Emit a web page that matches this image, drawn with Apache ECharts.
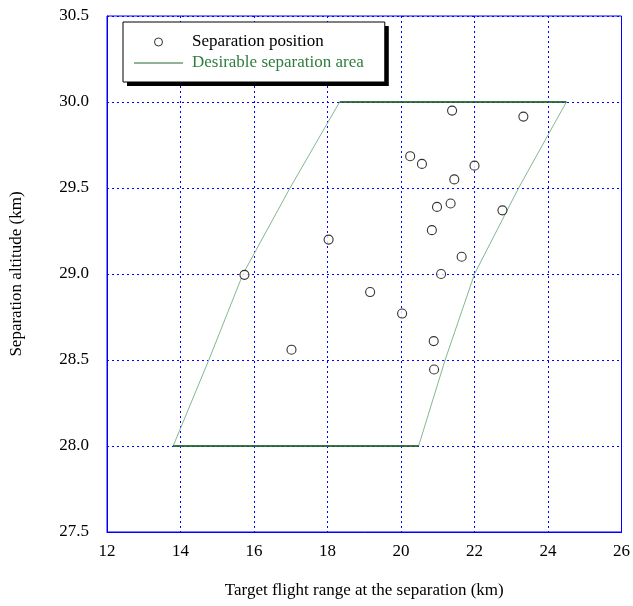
<!DOCTYPE html>
<html>
<head>
<meta charset="utf-8">
<script src="https://cdn.jsdelivr.net/npm/echarts@6/dist/echarts.min.js"></script>
<style>
html,body{margin:0;padding:0;background:#fff;}
#c{width:633px;height:606px;}
</style>
</head>
<body>
<div id="c"></div>
<script>
// Separation positions (x: flight range km, y: altitude km)
const sepX = [20.25, 20.57, 22.0, 21.45, 20.98, 21.35, 22.76, 20.84, 18.03, 21.65, 15.74, 21.09, 19.16, 20.03, 21.39, 23.33, 17.02, 20.89, 20.9];
const sepY = [29.685, 29.64, 29.63, 29.55, 29.39, 29.41, 29.37, 29.255, 29.2, 29.1, 28.995, 29.0, 28.895, 28.77, 29.95, 29.915, 28.56, 28.61, 28.445];
// Desirable separation area outline (closed)
const areaX = [13.8, 14.77, 15.7, 16.98, 18.33, 24.5, 23.2, 22.0, 21.2, 20.48, 13.8];
const areaY = [28.0, 28.5, 29.0, 29.5, 30.0, 30.0, 29.5, 29.0, 28.5, 28.0, 28.0];
// top and bottom edges of the area (same corners)
const topEdgeX = [18.33, 24.5];
const bottomEdgeX = [13.8, 20.48];
const topY = 30.0;
const bottomY = 28.0;
const xTicks = [12, 14, 16, 18, 20, 22, 24, 26];
const yTicks = [27.5, 28.0, 28.5, 29.0, 29.5, 30.0, 30.5];
const seriesNames = ['Separation position', 'Desirable separation area'];
const xTitle = 'Target flight range at the separation (km)';
const yTitle = 'Separation altitude (km)';

const font = 'Liberation Serif';
const blue = '#0000ff';
const green = '#0f501b';
const lightGreen = '#84b892';

// legend box geometry (for the offset black shadow)
const legLeft = 123, legTop = 22, legFont = 17;
const legPad = [10, 21, 9, 11], itemW = 49, rowH = 20, rowGap = 1, textPadL = 4;
const mctx = document.createElement('canvas').getContext('2d');
mctx.font = legFont + 'px "' + font + '"';
const maxTextW = Math.max(...seriesNames.map(s => mctx.measureText(s).width));
const legW = legPad[3] + itemW + 5 + textPadL + maxTextW + legPad[1];
const legH = legPad[0] + rowH * 2 + rowGap + legPad[2];

const chart = echarts.init(document.getElementById('c'), null, {renderer: 'canvas'});
chart.setOption({
  animation: false,
  backgroundColor: '#fff',
  textStyle: {fontFamily: font},
  grid: {left: 106, right: 9, top: 16, bottom: 74, show: true, borderColor: blue, borderWidth: 1, backgroundColor: 'transparent'},
  graphic: [{
    type: 'rect', z: 5, zlevel: 0,
    left: legLeft + 4, top: legTop + 4,
    shape: {width: legW, height: legH},
    style: {fill: '#000'}
  }],
  legend: {
    left: legLeft, top: legTop, orient: 'vertical', z: 6,
    padding: legPad,
    itemWidth: itemW, itemHeight: 8, itemGap: rowGap,
    backgroundColor: '#fff', borderColor: '#000', borderWidth: 1,
    textStyle: {fontFamily: font, fontSize: legFont, color: '#000', lineHeight: rowH, padding: [0, 0, 0, textPadL]},
    data: [
      {name: seriesNames[0], icon: 'circle', itemStyle: {color: '#fff', borderColor: '#000', borderWidth: 1}, textStyle: {color: '#000'}},
      {name: seriesNames[1], icon: 'path://M0,0H49V1.2H0Z', itemStyle: {color: '#1f6b30', borderWidth: 0}, textStyle: {color: '#2e7d3c'}}
    ]
  },
  xAxis: {
    type: 'value', min: xTicks[0], max: xTicks[xTicks.length-1], interval: 2,
    name: xTitle, nameLocation: 'middle', nameGap: 50,
    nameTextStyle: {fontFamily: font, fontSize: 17, color: '#000'},
    axisLine: {show: true, lineStyle: {color: blue, width: 1}},
    axisTick: {show: false},
    axisLabel: {fontFamily: font, fontSize: 17, color: '#000', margin: 11},
    splitLine: {show: true, lineStyle: {color: blue, type: [2, 3], width: 1}}
  },
  yAxis: {
    type: 'value', min: yTicks[0], max: yTicks[yTicks.length-1], interval: 0.5,
    name: yTitle, nameLocation: 'middle', nameGap: 82,
    nameTextStyle: {fontFamily: font, fontSize: 17, color: '#000'},
    axisLine: {show: true, lineStyle: {color: blue, width: 1}},
    axisTick: {show: false},
    axisLabel: {fontFamily: font, fontSize: 17, color: '#000', margin: 18, formatter: v => v.toFixed(1)},
    splitLine: {show: true, lineStyle: {color: blue, type: [2, 3], width: 1}}
  },
  series: [
    {
      name: seriesNames[0], type: 'scatter', z: 4,
      symbol: 'circle', symbolSize: 9,
      itemStyle: {color: '#fff', borderColor: '#000', borderWidth: 1.1},
      data: sepX.map((x, i) => [x, sepY[i]])
    },
    {
      name: seriesNames[1], type: 'line', z: 2,
      symbol: 'none', showSymbol: false,
      lineStyle: {color: lightGreen, width: 1},
      itemStyle: {color: '#1f6b30'},
      data: areaX.map((x, i) => [x, areaY[i]])
    },
    {
      name: seriesNames[1], type: 'line', z: 3,
      symbol: 'none', showSymbol: false,
      lineStyle: {color: green, width: 1.6},
      itemStyle: {color: '#1f6b30'},
      data: topEdgeX.map(x => [x, topY])
    },
    {
      name: seriesNames[1], type: 'line', z: 3,
      symbol: 'none', showSymbol: false,
      lineStyle: {color: green, width: 1.6},
      itemStyle: {color: '#1f6b30'},
      data: bottomEdgeX.map(x => [x, bottomY])
    }
  ]
});
</script>
</body>
</html>
